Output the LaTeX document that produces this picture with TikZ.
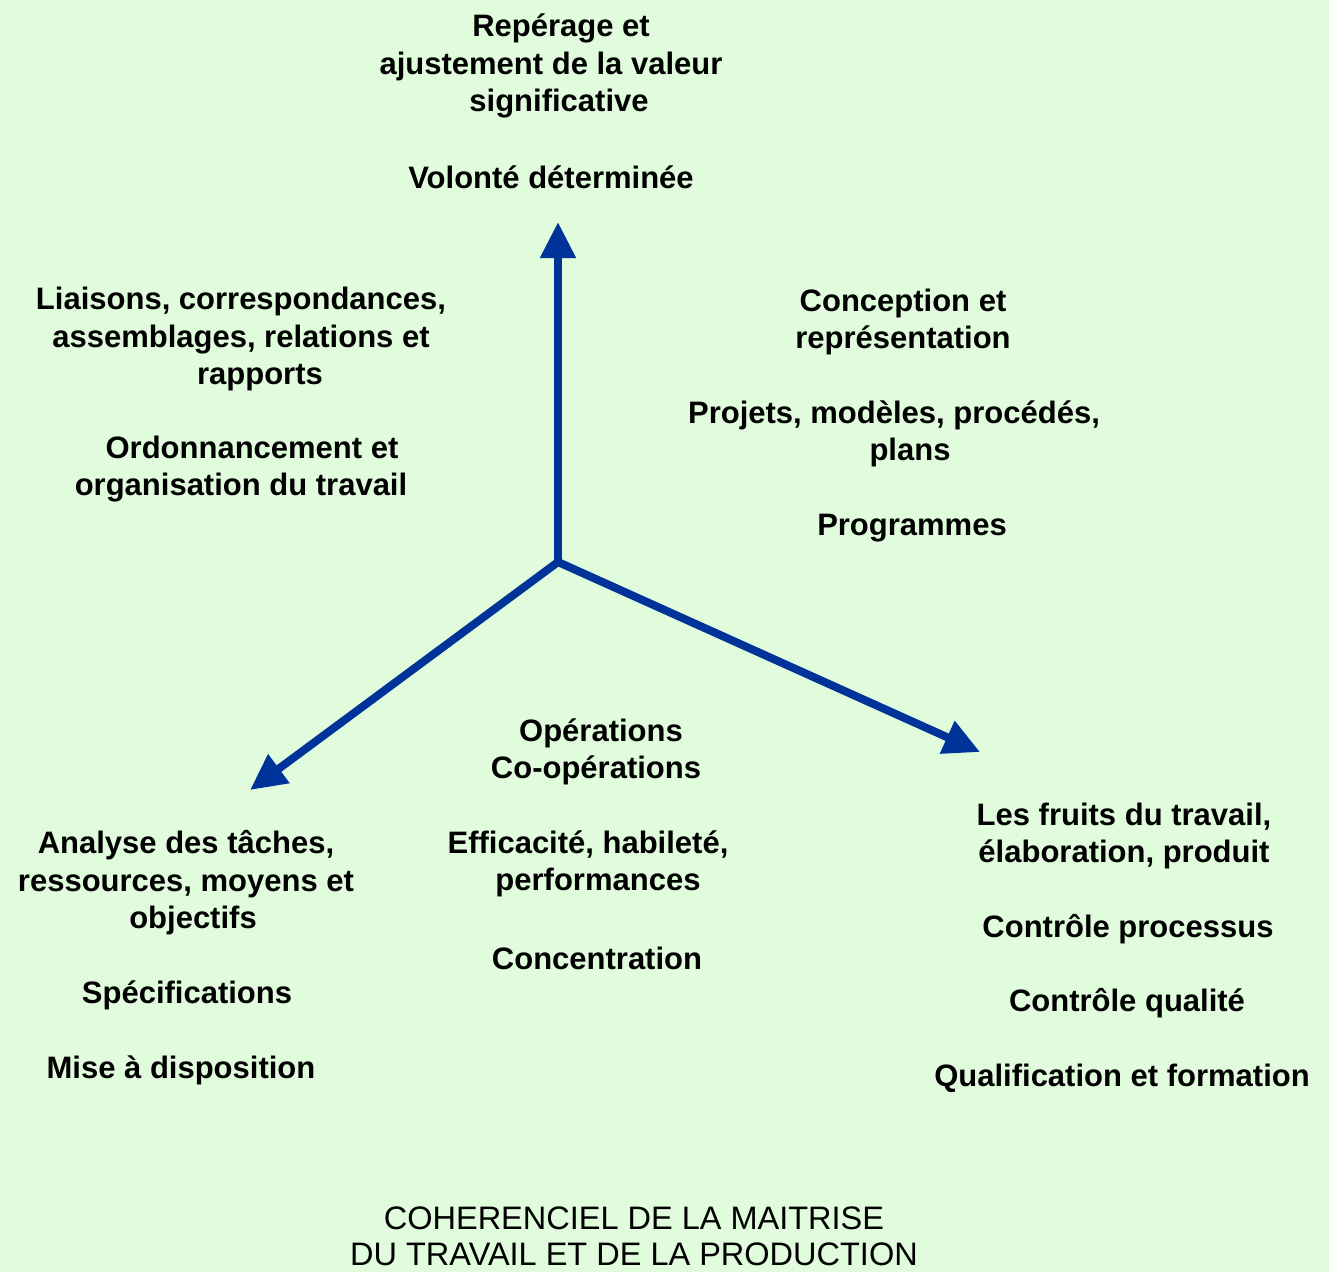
\documentclass[tikz,border=0pt]{standalone}
\usepackage{fontspec}
\setmainfont{Liberation Sans}
\usetikzlibrary{arrows.meta}
\definecolor{bgpale}{RGB}{224,252,220}
\definecolor{axisblue}{RGB}{0,51,153}
\tikzset{
  lbl/.style={align=center, inner sep=0pt, font=\fontsize{31}{37.5}\selectfont\bfseries, text=black},
  ttl/.style={align=center, inner sep=0pt, font=\fontsize{32.5}{36}\selectfont, text=black},
  axis/.style={draw=axisblue, line width=8pt, -{Triangle[length=36pt,width=34pt]}},
  axis2/.style={draw=axisblue, line width=8pt, {Triangle[length=36pt,width=34pt]}-{Triangle[length=36pt,width=34pt]}, line join=miter}
}
\begin{document}
\begin{tikzpicture}[x=1pt, y=-1pt]
  \fill[bgpale] (0,0) rectangle (1329,1272);
  \useasboundingbox (0,0) rectangle (1329,1272);

  % the three axes
  \coordinate (c) at (558,562);
  \coordinate (up) at (558,222);
  \coordinate (lt) at (250,790);
  \coordinate (rt) at (980,752);
  \draw[axis2] (lt) -- (c) -- (rt);
  \draw[axis] (c) -- (up);

  % top
  \node[lbl] (t1) at (551,66) {\hspace*{20pt}Repérage et\\ajustement de la valeur\\\hspace*{16pt}significative};
  \node[lbl] (t2) at (551,177) {Volonté déterminée};

  % upper left
  \node[lbl] (l1) at (241,339) {Liaisons, correspondances,\\assemblages, relations et\\\hspace*{38pt}rapports};
  \node[lbl] (l2) at (241,469) {\hspace*{22pt}Ordonnancement et\\organisation du travail};

  % upper right
  \node[lbl] (r1) at (903,322) {Conception et\\représentation};
  \node[lbl] (r2) at (894,434) {Projets, modèles, procédés,\\\hspace*{32pt}plans};
  \node[lbl] (r3) at (912,528) {Programmes};

  % lower middle
  \node[lbl] (m1) at (596,752) {\hspace*{10pt}Opérations\\Co-opérations};
  \node[lbl] (m2) at (588,864) {Efficacité, habileté,\\\hspace*{20pt}performances};
  \node[lbl] (m3) at (597,958) {Concentration};

  % lower left
  \node[lbl] (b1) at (186,883) {Analyse des tâches,\\ressources, moyens et\\\hspace*{14pt}objectifs};
  \node[lbl] (b2) at (187,995) {Spécifications};
  \node[lbl] (b3) at (181,1070) {Mise à disposition};

  % lower right
  \node[lbl] (d1) at (1124,836) {Les fruits du travail,\\élaboration, produit};
  \node[lbl] (d2) at (1128,929) {Contrôle processus};
  \node[lbl] (d3) at (1127,1003) {Contrôle qualité};
  \node[lbl] (d4) at (1122,1078) {Qualification et formation};

  % title
  \node[ttl] (title) at (634,1236) {COHERENCIEL DE LA MAITRISE\\DU TRAVAIL ET DE LA PRODUCTION};
\end{tikzpicture}
\end{document}
